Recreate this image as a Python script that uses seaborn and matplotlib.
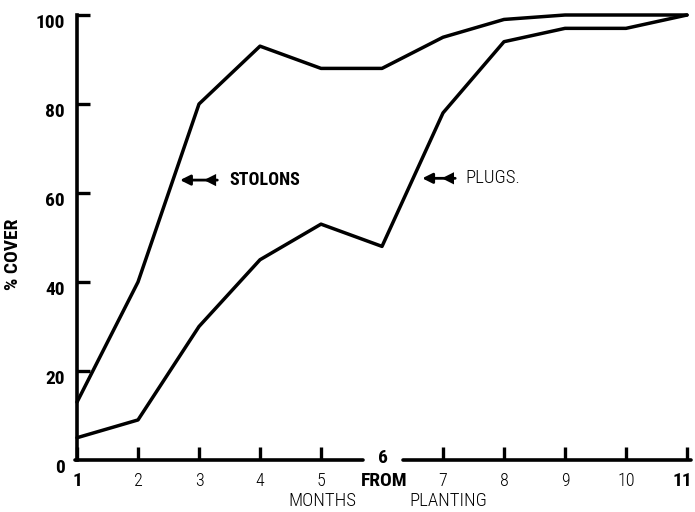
import matplotlib
matplotlib.use("Agg")
import matplotlib.pyplot as plt
import matplotlib.transforms as mtransforms
from matplotlib import font_manager
import pandas as pd
import seaborn as sns

# values
months = [1, 2, 3, 4, 5, 6, 7, 8, 9, 10, 11]
stolons = [13, 40, 80, 93, 88, 88, 95, 99, 100, 100, 100]
plugs = [5, 9, 30, 45, 53, 48, 78, 94, 97, 97, 100]

y_ticks = [0, 20, 40, 60, 80, 100]
x_ticks = [1, 2, 3, 4, 5, 7, 8, 9, 10, 11]
x_bold = [1, 11]

# label arrows: (head x, tail x, y, text x, text, bold)
callouts = [
    (2.69, 3.30, 62.9, 3.49, 'STOLONS', True),
    (6.66, 7.20, 63.3, 7.36, 'PLUGS.', False),
]


def pick_font():
    # the scan uses a narrow typeface; take a condensed one if there is any
    entries = font_manager.fontManager.ttflist
    names = {f.name for f in entries}
    for fam in ['Liberation Sans Narrow', 'Roboto Condensed', 'Open Sans Condensed',
                'Noto Sans Condensed', 'DejaVu Sans Condensed', 'Arial Narrow']:
        if fam in names:
            return fam, 'normal'
    for f in entries:
        if ('Condensed' in f.fname or 'Narrow' in f.fname) and f.name in (
                'DejaVu Sans', 'Noto Sans', 'Open Sans', 'Roboto', 'Liberation Sans', 'Lato', 'Inter'):
            return f.name, 'condensed'
    return 'DejaVu Sans', 'normal'


sns.set_style("ticks")
family, stretch = pick_font()
plt.rcParams['font.family'] = [family, 'DejaVu Sans']
plt.rcParams['font.stretch'] = stretch
plt.rcParams['text.color'] = 'black'
plt.rcParams['axes.labelcolor'] = 'black'
plt.rcParams['xtick.color'] = 'black'
plt.rcParams['ytick.color'] = 'black'

df = pd.DataFrame({
    'month': months * 2,
    'cover': stolons + plugs,
    'method': ['STOLONS'] * len(months) + ['PLUGS.'] * len(months),
})

fig = plt.figure(figsize=(6.95, 5.12), dpi=100)
ax = fig.add_axes([0.1108, 0.1016, 0.8777, 0.8691])

sns.lineplot(data=df, x='month', y='cover', hue='method',
             palette=['black', 'black'], linewidth=2.5, legend=False,
             ax=ax, clip_on=False)

ax.set_xlim(1, 11)
ax.set_ylim(0, 100)

for side in ['top', 'right', 'bottom']:
    ax.spines[side].set_visible(False)
ax.spines['left'].set_linewidth(2.6)
ax.spines['left'].set_color('black')

# broken month axis, open around "6"
ax.axhline(0, xmin=-0.004, xmax=0.469, color='black', lw=2.6, clip_on=False)
ax.axhline(0, xmin=0.534, xmax=1.006, color='black', lw=2.6, clip_on=False)

ax.set_yticks(y_ticks)
ax.set_yticklabels([str(v) for v in y_ticks], fontweight='heavy', fontsize=14)
ax.set_xticks(x_ticks)
ax.set_xticklabels([str(v) for v in x_ticks])

# tick marks pointing into the plot, drawn as short strokes at the tick values
ax.tick_params(axis='both', which='major', direction='in', length=0)
ax.tick_params(axis='y', pad=9)
ax.tick_params(axis='x', pad=18.5)
ax.vlines(x_ticks, 0, 0.03, transform=ax.get_xaxis_transform(),
          color='black', lw=2.4, clip_on=False, zorder=4)
ax.hlines(y_ticks[1:], 0, 0.022, transform=ax.get_yaxis_transform(),
          color='black', lw=2.4, clip_on=False, zorder=4)

# the scanned y numbers sit a little under their ticks
shift = mtransforms.ScaledTranslation(0, -4 / 72, fig.dpi_scale_trans)
for lab in ax.get_yticklabels():
    lab.set_transform(lab.get_transform() + shift)

nudge = mtransforms.ScaledTranslation(-3 / 72, 0, fig.dpi_scale_trans)
for lab, t in zip(ax.get_xticklabels(), x_ticks):
    lab.set_verticalalignment('baseline')
    if t in x_bold:
        lab.set_fontweight('heavy')
        lab.set_fontsize(14)
    else:
        lab.set_fontweight('light')
        lab.set_fontsize(13)
    if t == x_ticks[-1]:
        lab.set_transform(lab.get_transform() + nudge)

ax.set_xlabel('')
ax.set_ylabel('% COVER', fontweight='heavy', fontsize=14)
ax.yaxis.set_label_coords(-0.090, 0.462)

trans = mtransforms.blended_transform_factory(ax.transData, ax.transAxes)
ax.text(6.02, -0.007, '6', transform=trans, ha='center', va='baseline',
        fontweight='heavy', fontsize=14)
ax.text(6.03, -0.0585, 'FROM', transform=trans, ha='center', va='baseline',
        fontweight='heavy', fontsize=14)
ax.text(5.02, -0.104, 'MONTHS', transform=trans, ha='center', va='baseline',
        fontweight='light', fontsize=13.5)
ax.text(7.08, -0.104, 'PLANTING', transform=trans, ha='center', va='baseline',
        fontweight='light', fontsize=13.5)

for head, tail, y, tx, name, bold in callouts:
    ax.annotate('', xy=(head, y), xytext=(tail, y),
                arrowprops=dict(arrowstyle='-|>', color='black', lw=2.0,
                                mutation_scale=15, shrinkA=0, shrinkB=0))
    ax.annotate('', xy=(tail - 0.22, y), xytext=(tail, y),
                arrowprops=dict(arrowstyle='-|>', color='black', lw=0,
                                mutation_scale=22, shrinkA=0, shrinkB=0))
    ax.text(tx, y, name, ha='left', va='center',
            fontweight='heavy' if bold else 'light',
            fontsize=13 if bold else 13.5)

fig.savefig('out.png', dpi=100)
